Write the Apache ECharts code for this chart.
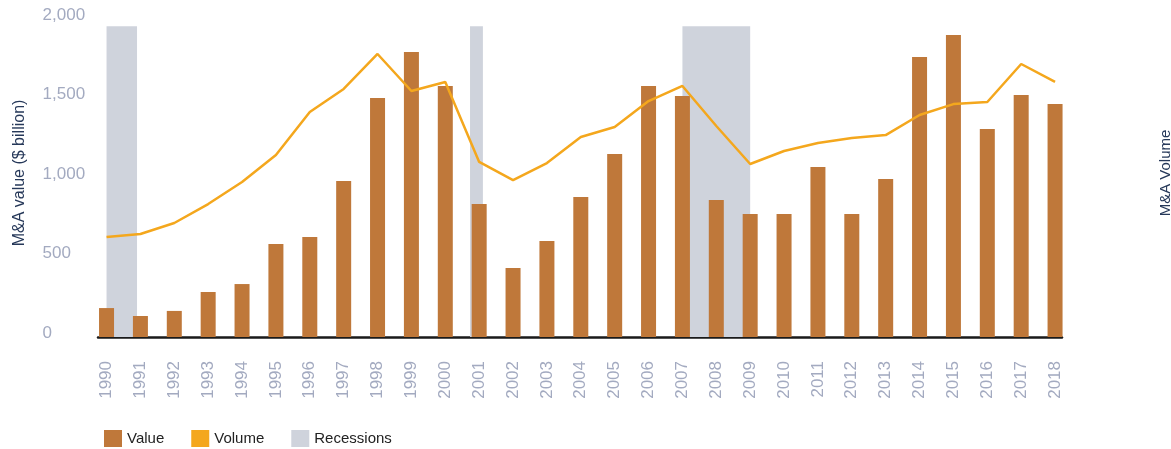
<!DOCTYPE html>
<html>
<head>
<meta charset="utf-8">
<title>M&amp;A value and volume</title>
<script src="https://cdn.jsdelivr.net/npm/echarts@6/dist/echarts.min.js"></script>
<style>
    html, body { margin: 0; padding: 0; background: #fff; }
    #chart { width: 1171px; height: 449px; }
</style>
</head>
<body>
<div id="chart"></div>
<script>
'use strict';

const years = ['1990', '1991', '1992', '1993', '1994', '1995', '1996', '1997', '1998', '1999',
    '2000', '2001', '2002', '2003', '2004', '2005', '2006', '2007', '2008', '2009',
    '2010', '2011', '2012', '2013', '2014', '2015', '2016', '2017', '2018'];

// M&A value, $ billion
const values = [182, 132, 164, 283, 333, 585, 629, 981, 1503, 1792,
    1579, 836, 434, 604, 881, 1151, 1579, 1516, 862, 774,
    774, 1069, 774, 994, 1761, 1899, 1308, 1522, 1465];

// M&A volume (right axis, no labels shown)
const volumes = [629, 648, 717, 836, 975, 1145, 1415, 1560, 1780, 1547,
    1604, 1101, 987, 1094, 1258, 1321, 1484, 1579, 1327, 1088,
    1170, 1220, 1252, 1270, 1396, 1465, 1478, 1717, 1604];

// recession spans, in fractional years on the category scale
const recessions = [[1990.0, 1990.9], [2000.73, 2001.11], [2007.0, 2009.0]];
const recessionTop = 1955;

const valueTicks = [0, 500, 1000, 1500, 2000];

const FONT = '"Liberation Sans", Arial, sans-serif';
const LABEL_GRAY = '#a3aac0';
const NAVY = '#263859';

var chart = echarts.init(document.getElementById('chart'), null, { renderer: 'canvas' });

var shadeData = recessions.map(function(r) {
    return [{ xAxis: r[0], yAxis: 0 }, { xAxis: r[1], yAxis: recessionTop }];
});

var option = {
    animation: false,
    textStyle: { fontFamily: FONT },
    grid: [
        { left: 89.6, right: 99, top: 19, bottom: 112, containLabel: false, outerBoundsMode: 'none' },
        { left: 98, right: 109, top: 19, bottom: 112, containLabel: false, outerBoundsMode: 'none' }
    ],
    legend: {
        left: 99,
        top: 425,
        icon: 'rect',
        itemWidth: 18,
        itemHeight: 17,
        itemGap: 27,
        textStyle: { fontFamily: FONT, fontSize: 15, color: '#222' },
        data: ['Value', 'Volume', 'Recessions']
    },
    xAxis: [
        {
            type: 'category',
            data: years,
            gridIndex: 0,
            axisLine: { show: false },
            axisTick: { show: false },
            axisLabel: {
                rotate: 90,
                margin: 24,
                color: LABEL_GRAY,
                fontSize: 17,
                fontFamily: FONT
            }
        },
        {
            // overlay for recession shading
            type: 'value',
            gridIndex: 0,
            min: 1989.5,
            max: 2018.5,
            show: false
        },
        {
            // baseline that only spans the bars
            type: 'value',
            gridIndex: 1,
            min: 0,
            max: 1,
            axisLine: { show: true, onZero: false, lineStyle: { color: '#1a1a1a', width: 2.5 } },
            axisTick: { show: false },
            axisLabel: { show: false },
            splitLine: { show: false }
        }
    ],
    yAxis: [
        {
            type: 'value',
            gridIndex: 0,
            min: valueTicks[0],
            max: valueTicks[valueTicks.length - 1],
            interval: 500,
            name: 'M&A value ($ billion)',
            nameLocation: 'middle',
            nameRotate: 90,
            nameGap: 62,
            nameTextStyle: { color: NAVY, fontSize: 16, fontFamily: FONT, padding: [0, 0, 0, 10] },
            axisLine: { show: false },
            axisTick: { show: false },
            splitLine: { show: false },
            axisLabel: {
                align: 'left',
                verticalAlign: 'bottom',
                lineHeight: 8,
                margin: 47,
                color: LABEL_GRAY,
                fontSize: 17,
                fontFamily: FONT,
                formatter: function(v) { return v.toLocaleString('en-US'); }
            }
        },
        {
            type: 'value',
            gridIndex: 0,
            min: 0,
            max: 2000,
            position: 'right',
            name: 'M&A Volume',
            nameLocation: 'middle',
            nameRotate: 90,
            nameGap: 86,
            nameTextStyle: { color: NAVY, fontSize: 15, fontFamily: FONT, padding: [0, 0, 0, 10] },
            axisLine: { show: false },
            axisTick: { show: false },
            axisLabel: { show: false },
            splitLine: { show: false }
        },
        {
            type: 'value',
            gridIndex: 1,
            min: 0,
            max: 1,
            show: false
        }
    ],
    series: [
        {
            name: 'Recessions',
            type: 'line',
            xAxisIndex: 1,
            yAxisIndex: 0,
            data: [],
            z: 1,
            itemStyle: { color: '#cfd3dc' },
            lineStyle: { color: '#cfd3dc' },
            markArea: {
                silent: true,
                itemStyle: { color: '#cfd3dc', opacity: 1 },
                data: shadeData
            }
        },
        {
            name: 'Value',
            type: 'bar',
            xAxisIndex: 0,
            yAxisIndex: 0,
            data: values,
            barWidth: 15,
            z: 3,
            itemStyle: { color: '#bf783a' }
        },
        {
            name: 'Volume',
            type: 'line',
            xAxisIndex: 0,
            yAxisIndex: 1,
            data: volumes,
            showSymbol: false,
            symbol: 'none',
            z: 4,
            itemStyle: { color: '#f4a71d' },
            lineStyle: { color: '#f4a71d', width: 2.5 }
        }
    ]
};

chart.setOption(option);
</script>
</body>
</html>
